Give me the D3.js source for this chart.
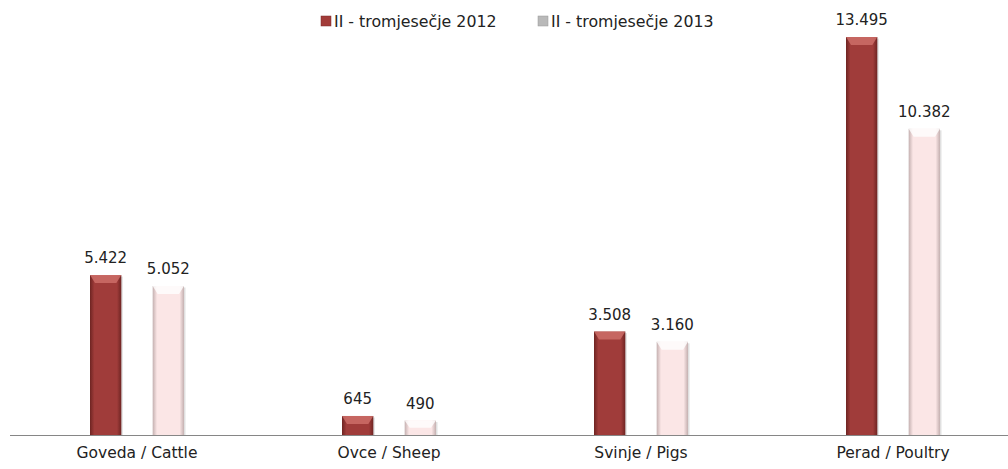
<!DOCTYPE html>
<html>
<head>
<meta charset="utf-8">
<script src="https://cdn.jsdelivr.net/npm/d3@7"></script>
<style>
  body { margin: 0; background: #fff; }
  text { font-family: "DejaVu Sans", sans-serif; fill: #222; }
</style>
</head>
<body>
<div id="chart"></div>
<script>
const categories = ["Goveda / Cattle", "Ovce / Sheep", "Svinje / Pigs", "Perad / Poultry"];
const seriesNames = ["II - tromjesečje 2012", "II - tromjesečje 2013"];
const values2012 = [5422, 645, 3508, 13495];
const values2013 = [5052, 490, 3160, 10382];

const width = 1008, height = 469;
const baseY = 435;

const svg = d3.select("#chart").append("svg")
  .attr("width", width)
  .attr("height", height);

const defs = svg.append("defs");
const palette = [
  { id: "g2012", edge: "#6e2422", mid: "#a03c3a", top: "#d0706c", mark: "#a23b38", line: "#7a2a28" },
  { id: "g2013", edge: "#c4b0b0", mid: "#fbe6e6", top: "#ffffff", mark: "#b9b9b9", line: "#999" }
];
palette.forEach(p => {
  const g = defs.append("linearGradient").attr("id", p.id).attr("x1", "0").attr("x2", "1");
  g.append("stop").attr("offset", "0%").attr("stop-color", p.edge);
  g.append("stop").attr("offset", "14%").attr("stop-color", p.mid);
  g.append("stop").attr("offset", "86%").attr("stop-color", p.mid);
  g.append("stop").attr("offset", "100%").attr("stop-color", p.edge);
});

const x0 = d3.scaleBand().domain(categories).range([11, 1019]);
const x1 = d3.scaleBand().domain(seriesNames)
  .range([x0.bandwidth() / 2 - 47, x0.bandwidth() / 2 + 47])
  .paddingInner(0.5);
const y = d3.scaleLinear().domain([0, 13495]).range([baseY, 37]);

const fmt = d3.formatLocale({ decimal: ",", thousands: ".", grouping: [3], currency: ["", ""] }).format(",d");

const rows = categories.map((c, i) => ({ cat: c, vals: [values2012[i], values2013[i]] }));

const groups = svg.selectAll("g.cat").data(rows).enter().append("g")
  .attr("transform", d => `translate(${x0(d.cat)},0)`);

groups.each(function(d) {
  const g = d3.select(this);
  d.vals.forEach((v, si) => {
    const p = palette[si];
    const bx = x1(seriesNames[si]);
    const bw = x1.bandwidth();
    const top = y(v);
    const h = baseY - top;
    // shadow
    g.append("rect").attr("x", bx + 1.5).attr("y", top + 1.5).attr("width", bw).attr("height", h - 1.5)
      .attr("fill", "#000").attr("opacity", 0.12);
    g.append("rect").attr("x", bx).attr("y", top).attr("width", bw).attr("height", h)
      .attr("fill", `url(#${p.id})`);
    const bev = Math.min(8, h / 2);
    g.append("polygon")
      .attr("points", [[bx, top], [bx + bw, top], [bx + bw - 5, top + bev], [bx + 5, top + bev]].map(q => q.join(",")).join(" "))
      .attr("fill", p.top).attr("opacity", 0.8);
    g.append("text")
      .attr("x", bx + bw / 2).attr("y", top - 12)
      .attr("text-anchor", "middle").attr("font-size", 15)
      .text(fmt(v));
  });
});

// axis line
svg.append("line").attr("x1", 10).attr("x2", width).attr("y1", baseY + 0.5).attr("y2", baseY + 0.5)
  .attr("stroke", "#868686").attr("stroke-width", 1);

const xAxis = svg.append("g").attr("transform", `translate(0,${baseY})`)
  .call(d3.axisBottom(x0).tickSize(0).tickPadding(12));
xAxis.select(".domain").remove();
xAxis.selectAll("text").attr("font-size", 15.5).attr("fill", "#222")
  .style("font-family", "'DejaVu Sans', sans-serif");

// legend
const legendX = [321, 538];
const legend = svg.selectAll("g.leg").data(seriesNames).enter().append("g")
  .attr("transform", (d, i) => `translate(${legendX[i]},16)`);
legend.append("rect").attr("width", 10).attr("height", 10)
  .attr("fill", (d, i) => palette[i].mark).attr("stroke", (d, i) => palette[i].line).attr("stroke-width", 0.5);
legend.append("text").attr("x", 13).attr("y", 10.5).attr("font-size", 15.8).text(d => d);
</script>
</body>
</html>
